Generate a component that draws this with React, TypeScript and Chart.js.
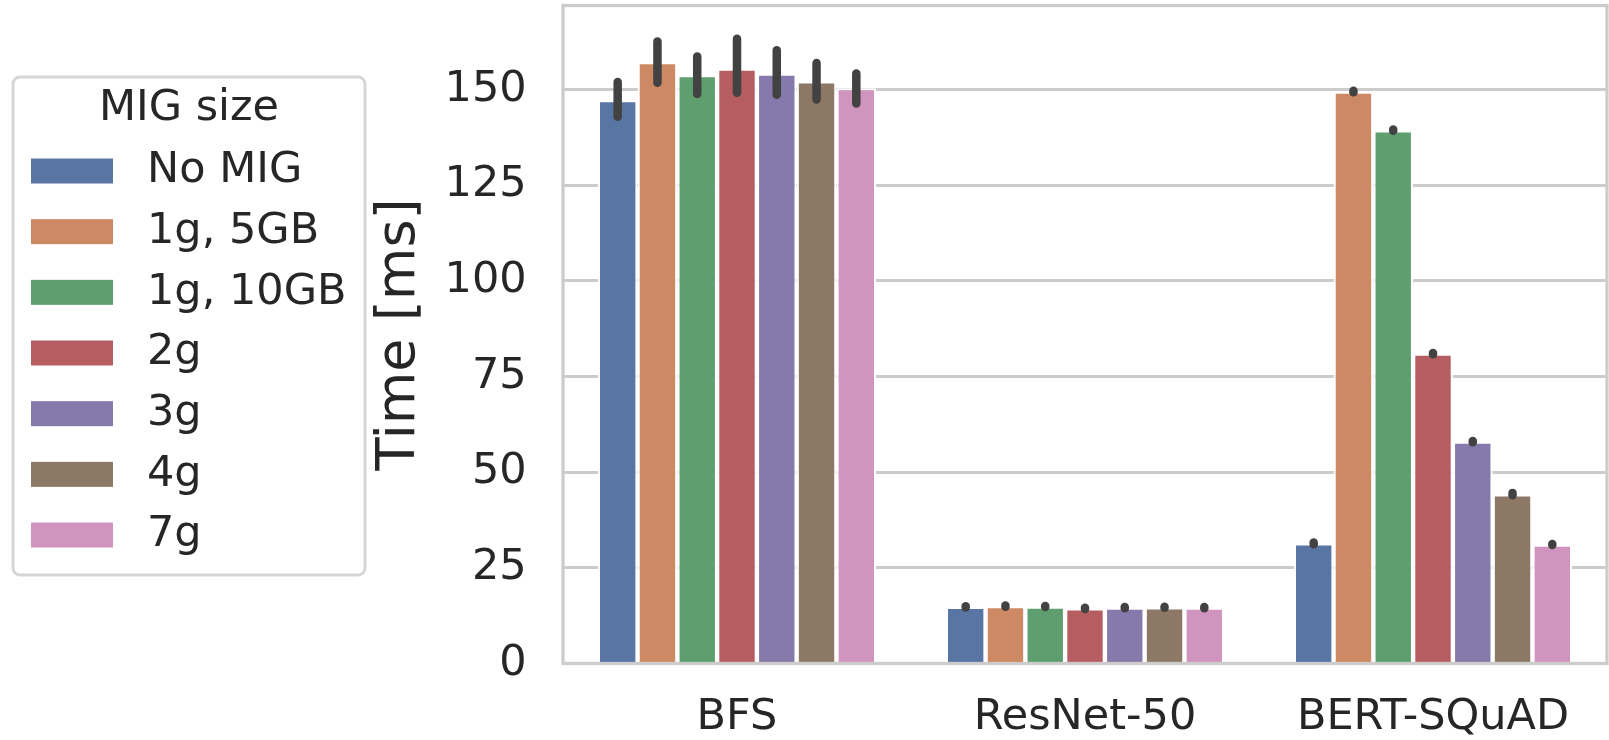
import React, { useEffect, useRef } from 'react';
import { Chart, registerables } from 'chart.js';

Chart.register(...registerables);

const FONT = '"DejaVu Sans", "Liberation Sans", sans-serif';
const TEXT = '#262626';

const categories = ['BFS', 'ResNet-50', 'BERT-SQuAD'];
const seriesLabels = ['No MIG', '1g, 5GB', '1g, 10GB', '2g', '3g', '4g', '7g'];
const seriesColors = ['#5875a4', '#cc8963', '#5f9e6e', '#b55d60', '#857aab', '#8d7866', '#d095bf'];

// mean times [ms] per category
const noMIG = [147.3, 14.8, 31.4];
const g1_5GB = [157.2, 15.0, 149.5];
const g1_10GB = [153.8, 14.9, 139.4];
const g2 = [155.5, 14.4, 81.0];
const g3 = [154.2, 14.6, 58.0];
const g4 = [152.2, 14.7, 44.2];
const g7 = [150.4, 14.6, 31.1];

// confidence interval low / high per category
const noMIGLow = [142.9, 14.65, 31.2];
const noMIGHigh = [152.0, 14.95, 31.6];
const g1_5GBLow = [151.8, 14.85, 149.3];
const g1_5GBHigh = [162.6, 15.15, 149.7];
const g1_10GBLow = [148.9, 14.75, 139.25];
const g1_10GBHigh = [158.7, 15.05, 139.6];
const g2Low = [149.2, 14.25, 80.85];
const g2High = [163.3, 14.55, 81.15];
const g3Low = [148.7, 14.45, 57.85];
const g3High = [160.3, 14.75, 58.15];
const g4Low = [147.4, 14.55, 44.0];
const g4High = [157.0, 14.85, 44.6];
const g7Low = [146.4, 14.45, 30.95];
const g7High = [154.2, 14.75, 31.25];

const yTickStep = 25;
const yMax = 172;

const seriesValues = [noMIG, g1_5GB, g1_10GB, g2, g3, g4, g7];
const seriesLow = [noMIGLow, g1_5GBLow, g1_10GBLow, g2Low, g3Low, g4Low, g7Low];
const seriesHigh = [noMIGHigh, g1_5GBHigh, g1_10GBHigh, g2High, g3High, g4High, g7High];

const errorBarPlugin = {
  id: 'errorBars',
  afterDatasetsDraw(chart: any) {
    const ctx = chart.ctx;
    const y = chart.scales.y;
    ctx.save();
    ctx.strokeStyle = '#424242';
    ctx.lineWidth = 8.5;
    ctx.lineCap = 'round';
    chart.data.datasets.forEach((ds: any, i: number) => {
      const meta = chart.getDatasetMeta(i);
      meta.data.forEach((bar: any, j: number) => {
        const lo = seriesLow[i][j];
        const hi = seriesHigh[i][j];
        ctx.beginPath();
        ctx.moveTo(bar.x, y.getPixelForValue(lo));
        ctx.lineTo(bar.x, y.getPixelForValue(hi));
        ctx.stroke();
      });
    });
    ctx.restore();
  },
};

const framePlugin = {
  id: 'frame',
  afterDatasetsDraw(chart: any) {
    const { ctx, chartArea: a } = chart;
    ctx.save();
    ctx.strokeStyle = '#cccccc';
    ctx.lineWidth = 3.3;
    ctx.strokeRect(a.left, a.top, a.right - a.left, a.bottom - a.top);
    ctx.restore();
  },
};

const legendPlugin = {
  id: 'customLegend',
  afterDraw(chart: any) {
    const ctx = chart.ctx;
    ctx.save();
    ctx.strokeStyle = '#d6d6d6';
    ctx.lineWidth = 3;
    ctx.beginPath();
    (ctx as any).roundRect(13, 77, 352, 498, 7);
    ctx.stroke();
    ctx.fillStyle = TEXT;
    ctx.font = `43px ${FONT}`;
    ctx.textAlign = 'center';
    ctx.textBaseline = 'middle';
    ctx.fillText('MIG size', 189, 109);
    ctx.textAlign = 'left';
    chart.data.datasets.forEach((ds: any, i: number) => {
      const cy = 171 + i * 60.67;
      ctx.fillStyle = ds.backgroundColor;
      ctx.fillRect(31, cy - 12.5, 82, 25);
      ctx.fillStyle = TEXT;
      ctx.fillText(ds.label, 147, cy);
    });
    ctx.restore();
  },
};

export default function App() {
  const ref = useRef<HTMLCanvasElement>(null);
  useEffect(() => {
    const chart = new Chart(ref.current as HTMLCanvasElement, {
      type: 'bar',
      data: {
        labels: categories,
        datasets: seriesLabels.map((label, i) => ({
          label,
          data: seriesValues[i],
          backgroundColor: seriesColors[i],
          borderColor: '#ffffff',
          borderWidth: 2.2,
          borderSkipped: 'start',
          categoryPercentage: 0.8,
          barPercentage: 1,
        })),
      },
      options: {
        responsive: false,
        animation: false,
        devicePixelRatio: 1,
        layout: { padding: { left: 360, right: 2, top: 5.5, bottom: 0 } },
        plugins: { legend: { display: false }, tooltip: { enabled: false } },
        scales: {
          x: {
            grid: { display: false, drawTicks: false },
            border: { display: false },
            ticks: { font: { family: FONT, size: 43 }, color: TEXT, padding: 28.6 },
            afterFit: (s: any) => {
              s.height = 76.5;
              s.paddingLeft = 0;
              s.paddingRight = 0;
              s.paddingTop = 0;
              s.paddingBottom = 0;
            },
          },
          y: {
            min: 0,
            max: yMax,
            grid: { color: '#cccccc', lineWidth: 3, drawTicks: false },
            border: { display: false },
            ticks: {
              stepSize: yTickStep,
              includeBounds: false,
              font: { family: FONT, size: 43 },
              color: TEXT,
              padding: 36.4,
            },
            title: {
              display: true,
              text: 'Time [ms]',
              font: { family: FONT, size: 54 },
              color: TEXT,
              padding: { top: 8, bottom: 0 },
            },
            afterFit: (s: any) => {
              s.width = 203;
              s.paddingLeft = 0;
              s.paddingRight = 0;
              s.paddingTop = 0;
              s.paddingBottom = 0;
            },
          },
        },
      },
      plugins: [errorBarPlugin, framePlugin, legendPlugin],
    } as any);
    return () => chart.destroy();
  }, []);
  return (
    <div style={{ position: 'fixed', left: 0, top: 0, width: 1609, height: 740, background: '#fff' }}>
      <canvas ref={ref} width={1609} height={740} style={{ display: 'block' }} />
    </div>
  );
}
